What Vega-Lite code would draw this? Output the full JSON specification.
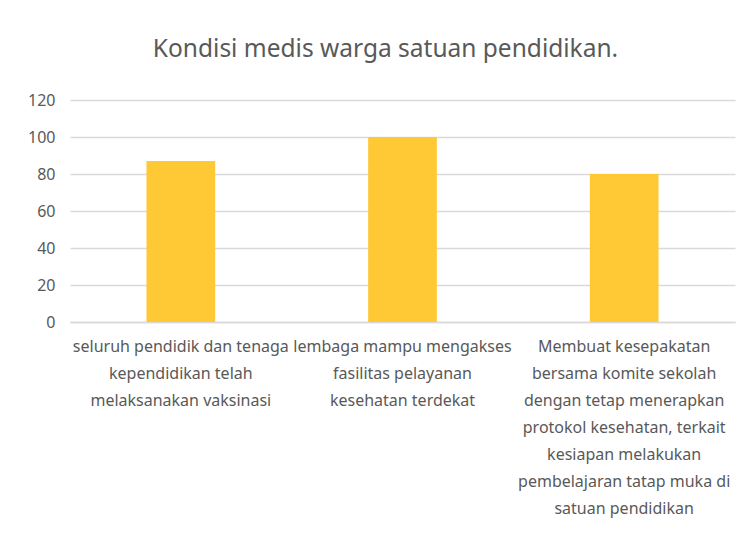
{
  "$schema": "https://vega.github.io/schema/vega-lite/v6.json",
  "width": 665,
  "height": 222,
  "autosize": {"type": "none"},
  "padding": {"left": 70, "top": 100, "right": 13, "bottom": 217},
  "background": "white",
  "title": {
    "text": "Kondisi medis warga satuan pendidikan.",
    "font": "Noto Sans",
    "fontSize": 24.5,
    "fontWeight": "normal",
    "color": "#595959",
    "anchor": "middle",
    "dx": -17,
    "offset": 30
  },
  "data": {
    "values": [
      {"kategori": "seluruh pendidik dan tenaga\nkependidikan telah\nmelaksanakan vaksinasi", "nilai": 87},
      {"kategori": "lembaga mampu mengakses\nfasilitas pelayanan\nkesehatan terdekat", "nilai": 100},
      {"kategori": "Membuat kesepakatan\nbersama komite sekolah\ndengan tetap menerapkan\nprotokol kesehatan, terkait\nkesiapan melakukan\npembelajaran tatap muka di\nsatuan pendidikan", "nilai": 80}
    ]
  },
  "mark": {"type": "bar", "color": "#FFC935"},
  "encoding": {
    "x": {
      "field": "kategori",
      "type": "nominal",
      "sort": null,
      "scale": {"paddingInner": 0.69, "paddingOuter": 0.345},
      "axis": {
        "title": null,
        "labelAngle": 0,
        "labelExpr": "split(datum.label, '\\n')",
        "labelFont": "Noto Sans",
        "labelFontSize": 16,
        "labelLineHeight": 27,
        "labelColor": "#595959",
        "labelPadding": 16,
        "labelLimit": 300,
        "ticks": false,
        "domain": true,
        "domainColor": "#d9d9d9",
        "domainWidth": 1.5
      }
    },
    "y": {
      "field": "nilai",
      "type": "quantitative",
      "scale": {"domain": [0, 120]},
      "axis": {
        "title": null,
        "values": [0, 20, 40, 60, 80, 100, 120],
        "labelFont": "Noto Sans",
        "labelFontSize": 16,
        "labelColor": "#595959",
        "labelPadding": 15,
        "ticks": false,
        "domain": false,
        "grid": true,
        "gridColor": "#d9d9d9",
        "gridWidth": 1.5
      }
    }
  },
  "config": {"view": {"stroke": null}}
}
